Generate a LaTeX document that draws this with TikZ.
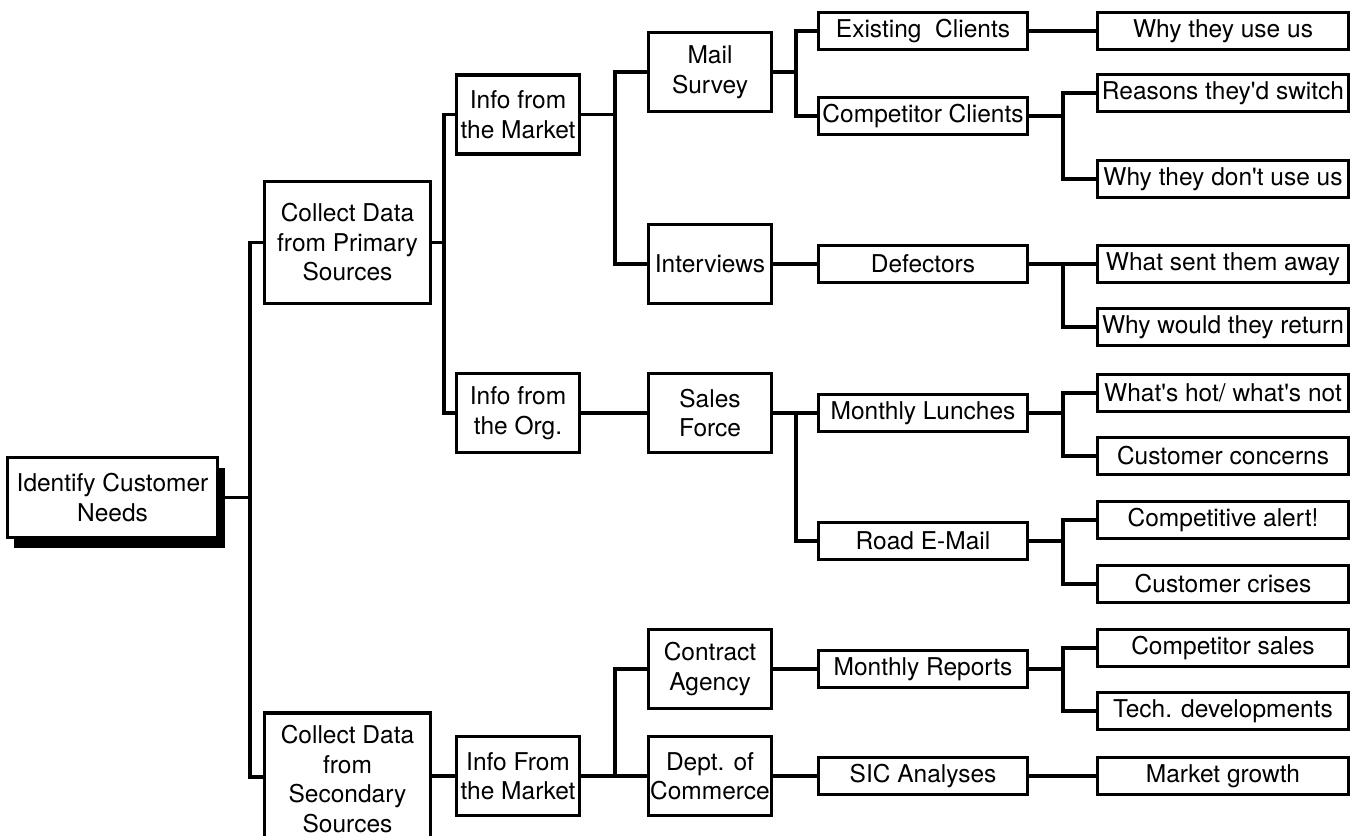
\documentclass[tikz,border=0pt]{standalone}
\usepackage{fontspec}
\setmainfont{TeX Gyre Heros}
\usetikzlibrary{shadows}
\begin{document}
\begin{tikzpicture}[x=1bp,y=-1bp,
  box/.style={draw, line width=3.1bp, fill=white, inner sep=0pt, align=center,
    font=\fontsize{24.5bp}{29.5bp}\selectfont},
  bigbox/.style={box, minimum width=123bp, minimum height=79bp},
  midbox/.style={box, minimum width=209bp, minimum height=37bp},
  leafbox/.style={box, minimum width=251bp, minimum height=37bp},
  conn/.style={line width=3.1bp, line join=miter}]
\useasboundingbox (0,0) rectangle (1355,835);
\clip (0,0) rectangle (1355,835);

% bus coordinates
\coordinate (b0) at (250,0);
\coordinate (b1) at (444,0);
\coordinate (b2) at (615,0);
\coordinate (b3) at (796,0);
\coordinate (b4) at (1063,0);

% level 0
\node[box, minimum width=210bp, minimum height=80bp,
  drop shadow={shadow xshift=7bp, shadow yshift=-10bp, opacity=1, fill=black}]
  (root) at (112.5,497.5) {Identify Customer\\Needs};

% level 1
\node[box, minimum width=166bp, minimum height=122bp] (primary) at (347.5,242.5) {Collect Data\\from Primary\\Sources};
\node[box, minimum width=166bp, minimum height=132bp] (secondary) at (347.5,779) {Collect Data\\from\\Secondary\\Sources};

% level 2
\node[bigbox] (imkt) at (518,114.5) {Info from\\the Market};
\node[bigbox] (iorg) at (518,413) {Info from\\the Org.};
\node[bigbox] (imkt2) at (518,776) {Info From\\the Market};

% level 3
\node[bigbox] (mail) at (710,72) {Mail\\Survey};
\node[bigbox] (interv) at (710,264) {Interviews};
\node[bigbox] (sales) at (710,413) {Sales\\Force};
\node[bigbox] (contract) at (710,669) {Contract\\Agency};
\node[bigbox] (dept) at (710,776) {Dept. of\\Commerce};

% level 4
\node[midbox] (existing) at (923,31) {Existing\ \ Clients};
\node[midbox] (compcl) at (923,116) {Competitor Clients};
\node[midbox] (defect) at (923,264) {Defectors};
\node[midbox] (lunches) at (923,413) {Monthly Lunches};
\node[midbox] (road) at (923,541) {Road E-Mail};
\node[midbox] (reports) at (923,669) {Monthly Reports};
\node[midbox] (sic) at (923,776) {SIC Analyses};

% level 5
\node[leafbox] (whyuse) at (1223,31) {Why they use us};
\node[leafbox] (reasons) at (1223,93) {Reasons they\textquotesingle d switch};
\node[leafbox] (whydont) at (1223,179) {Why they don\textquotesingle t use us};
\node[leafbox] (sent) at (1223,264) {What sent them away};
\node[leafbox] (return) at (1223,327) {Why would they return};
\node[leafbox] (hot) at (1223,393) {What\textquotesingle s hot/ what\textquotesingle s not};
\node[leafbox] (concerns) at (1223,456) {Customer concerns};
\node[leafbox] (alert) at (1223,520) {Competitive alert!};
\node[leafbox] (crises) at (1223,584) {Customer crises};
\node[leafbox] (compsales) at (1223,648) {Competitor sales};
\node[leafbox] (tech) at (1223,711) {Tech. developments};
\node[leafbox] (growth) at (1223,776) {Market growth};

% connectors
\draw[conn] (root.east) -- (root.east -| b0) |- (primary.west);
\draw[conn] (root.east -| b0) |- (secondary.west |- 0,777);
\draw[conn] (primary.east) -- (primary.east -| b1) |- (imkt.west);
\draw[conn] (primary.east -| b1) |- (iorg.west);
\draw[conn] (imkt2.west -| secondary.east) -- (imkt2.west);

\draw[conn] (imkt.east) -- (imkt.east -| b2) |- (mail.west);
\draw[conn] (imkt.east -| b2) |- (interv.west);
\draw[conn] (iorg.east) -- (sales.west);
\draw[conn] (imkt2.east) -- (imkt2.east -| b2) |- (contract.west);
\draw[conn] (imkt2.east -| b2) -- (dept.west);

\draw[conn] (mail.east) -- (mail.east -| b3) |- (existing.west);
\draw[conn] (mail.east -| b3) |- (compcl.west);
\draw[conn] (interv.east) -- (defect.west);
\draw[conn] (sales.east) -- (sales.east -| b3) |- (lunches.west);
\draw[conn] (sales.east -| b3) |- (road.west);
\draw[conn] (contract.east) -- (reports.west);
\draw[conn] (dept.east) -- (sic.west);

\draw[conn] (existing.east) -- (whyuse.west);
\draw[conn] (compcl.east) -- (compcl.east -| b4) |- (reasons.west);
\draw[conn] (compcl.east -| b4) |- (whydont.west);
\draw[conn] (defect.east) -- (sent.west);
\draw[conn] (defect.east -| b4) |- (return.west);
\draw[conn] (lunches.east) -- (lunches.east -| b4) |- (hot.west);
\draw[conn] (lunches.east -| b4) |- (concerns.west);
\draw[conn] (road.east) -- (road.east -| b4) |- (alert.west);
\draw[conn] (road.east -| b4) |- (crises.west);
\draw[conn] (reports.east) -- (reports.east -| b4) |- (compsales.west);
\draw[conn] (reports.east -| b4) |- (tech.west);
\draw[conn] (sic.east) -- (growth.west);
\end{tikzpicture}
\end{document}
